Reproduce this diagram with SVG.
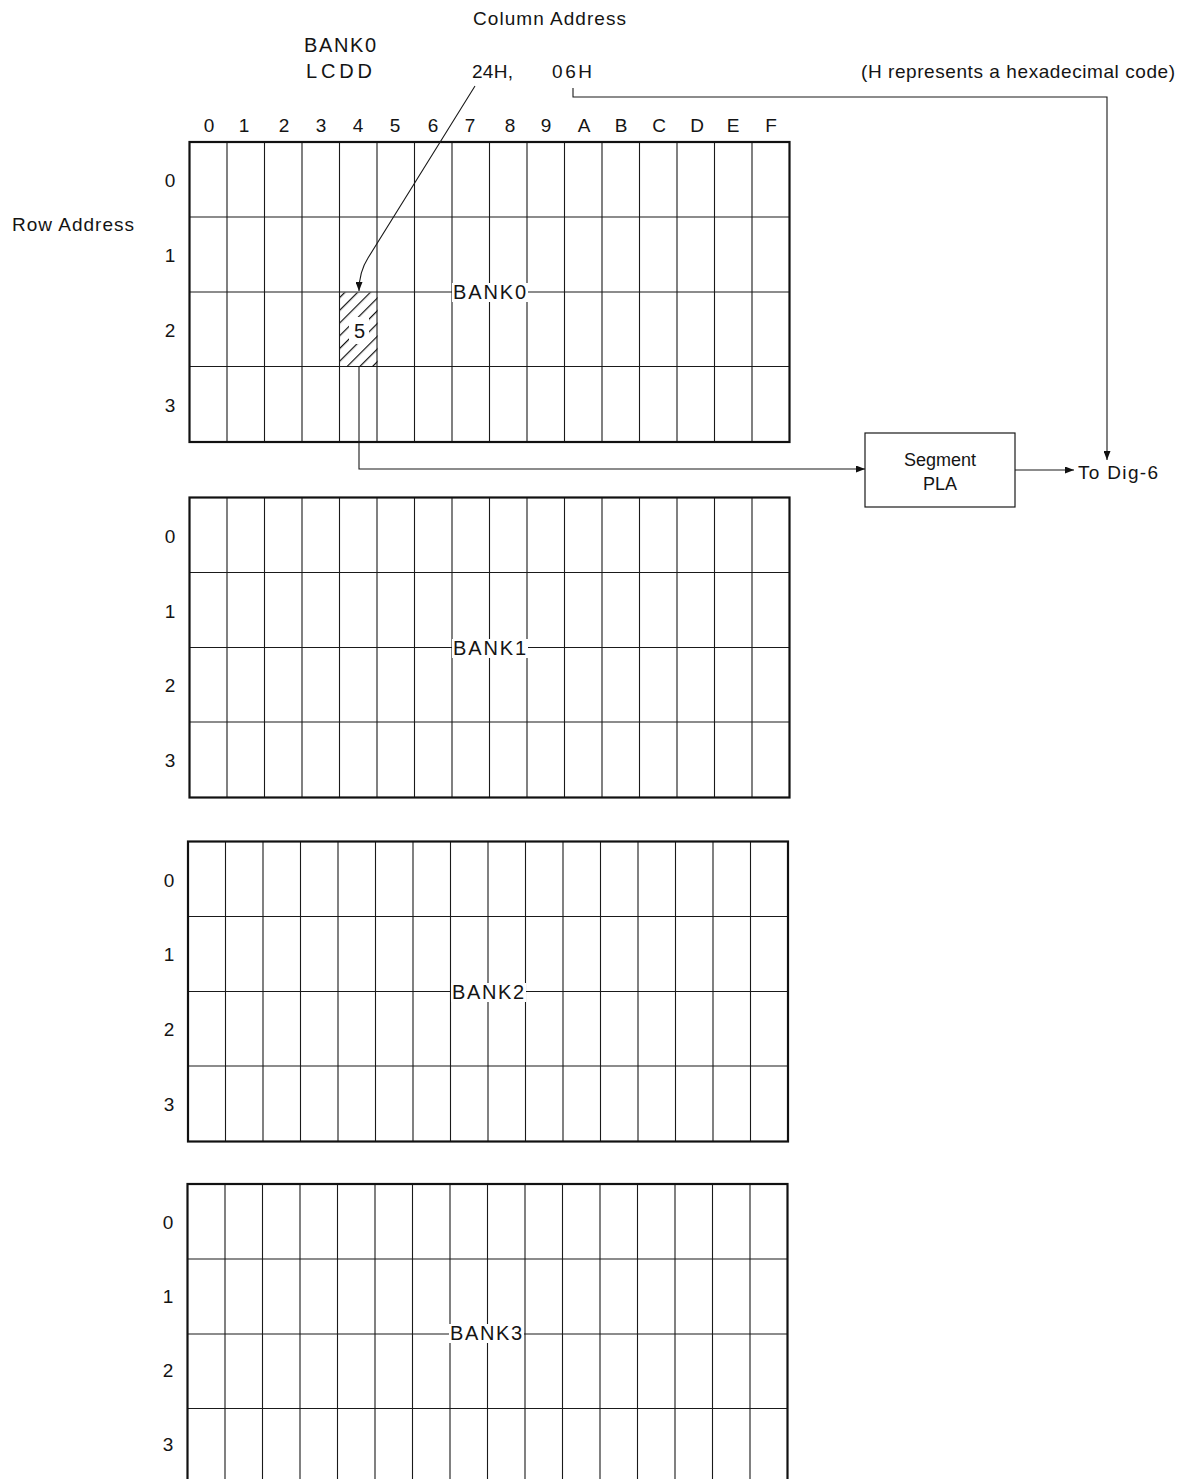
<svg xmlns="http://www.w3.org/2000/svg" xmlns:xlink="http://www.w3.org/1999/xlink" width="1187" height="1479" viewBox="0 0 1187 1479">
<style>
.t{font-family:"Liberation Sans",Arial,Helvetica,sans-serif;font-size:19px;fill:#141414}
.s{font-size:18px}
.b{font-size:20px}
.c{text-anchor:middle}
.grid{fill:none;stroke:#1a1a1a;stroke-width:1.1}
.border{fill:none;stroke:#111;stroke-width:2.2}
.wire{fill:none;stroke:#1a1a1a;stroke-width:1.1}
.box{fill:#fff;stroke:#1a1a1a;stroke-width:1.2}
</style>
<defs>
<marker id="arr" markerUnits="userSpaceOnUse" markerWidth="9" markerHeight="7" refX="9" refY="3.5" orient="auto">
<path d="M0,0 L9,3.5 L0,7 z" fill="#111"/>
</marker>
<pattern id="hatch" patternUnits="userSpaceOnUse" width="9" height="9" patternTransform="rotate(45)">
<line x1="0" y1="0" x2="0" y2="9" stroke="#111" stroke-width="2.4"/>
</pattern>
<g id="grid">
<path class="grid" d="M37.5,0V300M75,0V300M112.5,0V300M150,0V300M187.5,0V300M225,0V300M262.5,0V300M300,0V300M337.5,0V300M375,0V300M412.5,0V300M450,0V300M487.5,0V300M525,0V300M562.5,0V300M0,75H600M0,150H600M0,224.5H600"/>
<rect class="border" x="0" y="0" width="600" height="300"/>
</g>
</defs>
<rect width="1187" height="1479" fill="#fff"/>

<g id="header">
<text class="t" x="473" y="25" textLength="153" lengthAdjust="spacing">Column Address</text>
<text class="t b" x="304" y="52" textLength="72" lengthAdjust="spacing">BANK0</text>
<text class="t b" x="306" y="78" textLength="66" lengthAdjust="spacing">LCDD</text>
<text class="t" x="472" y="78" textLength="41" lengthAdjust="spacing">24H,</text>
<text class="t" x="552" y="78" textLength="40" lengthAdjust="spacing">06H</text>
<text class="t" x="861" y="78" textLength="314" lengthAdjust="spacing">(H represents a hexadecimal code)</text>
<text class="t" x="12" y="231" textLength="122" lengthAdjust="spacing">Row Address</text>
</g>

<g id="column-labels">
<text class="t c" x="209" y="132">0</text>
<text class="t c" x="244" y="132">1</text>
<text class="t c" x="284" y="132">2</text>
<text class="t c" x="321" y="132">3</text>
<text class="t c" x="358" y="132">4</text>
<text class="t c" x="395" y="132">5</text>
<text class="t c" x="433" y="132">6</text>
<text class="t c" x="470" y="132">7</text>
<text class="t c" x="510" y="132">8</text>
<text class="t c" x="546" y="132">9</text>
<text class="t c" x="584" y="132">A</text>
<text class="t c" x="621" y="132">B</text>
<text class="t c" x="659" y="132">C</text>
<text class="t c" x="697" y="132">D</text>
<text class="t c" x="733" y="132">E</text>
<text class="t c" x="771" y="132">F</text>
</g>

<g id="bank0">
<use xlink:href="#grid" href="#grid" transform="translate(189.5,142)"/>
<rect x="340" y="292.5" width="37.5" height="74.5" fill="url(#hatch)"/>
<rect x="349" y="317" width="20" height="27" fill="#fff"/>
<text class="t b c" x="359.5" y="338">5</text>
<rect x="452" y="283" width="76" height="19" fill="#fff"/>
<text class="t b" x="453" y="299" textLength="73" lengthAdjust="spacing">BANK0</text>
<text class="t c" x="170" y="187">0</text>
<text class="t c" x="170" y="262">1</text>
<text class="t c" x="170" y="337">2</text>
<text class="t c" x="170" y="412">3</text>
</g>

<g id="bank1">
<use xlink:href="#grid" href="#grid" transform="translate(189.5,497.5)"/>
<rect x="452" y="639" width="76" height="19" fill="#fff"/>
<text class="t b" x="453" y="655" textLength="73" lengthAdjust="spacing">BANK1</text>
<text class="t c" x="170" y="543">0</text>
<text class="t c" x="170" y="618">1</text>
<text class="t c" x="170" y="692">2</text>
<text class="t c" x="170" y="767">3</text>
</g>

<g id="bank2">
<use xlink:href="#grid" href="#grid" transform="translate(188,841.5)"/>
<rect x="451" y="983" width="75" height="19" fill="#fff"/>
<text class="t b" x="452" y="999" textLength="72" lengthAdjust="spacing">BANK2</text>
<text class="t c" x="169" y="887">0</text>
<text class="t c" x="169" y="961">1</text>
<text class="t c" x="169" y="1036">2</text>
<text class="t c" x="169" y="1111">3</text>
</g>

<g id="bank3">
<use xlink:href="#grid" href="#grid" transform="translate(187.5,1184)"/>
<rect x="449" y="1324" width="75" height="19" fill="#fff"/>
<text class="t b" x="450" y="1340" textLength="72" lengthAdjust="spacing">BANK3</text>
<text class="t c" x="168" y="1229">0</text>
<text class="t c" x="168" y="1303">1</text>
<text class="t c" x="168" y="1377">2</text>
<text class="t c" x="168" y="1451">3</text>
</g>

<g id="segment-pla">
<rect class="box" x="865" y="433" width="150" height="74"/>
<text class="t s c" x="940" y="466">Segment</text>
<text class="t s c" x="940" y="490">PLA</text>
</g>

<g id="output-label">
<text class="t" x="1078" y="479" textLength="80" lengthAdjust="spacing">To Dig-6</text>
</g>

<g id="connectors">
<path class="wire" d="M475,86 L368,258 Q359,272 359,291" marker-end="url(#arr)"/>
<path class="wire" d="M359,367 V469 H865" marker-end="url(#arr)"/>
<path class="wire" d="M573,88 V97 H1107 V460" marker-end="url(#arr)"/>
<path class="wire" d="M1015,470 H1074" marker-end="url(#arr)"/>
</g>
</svg>
